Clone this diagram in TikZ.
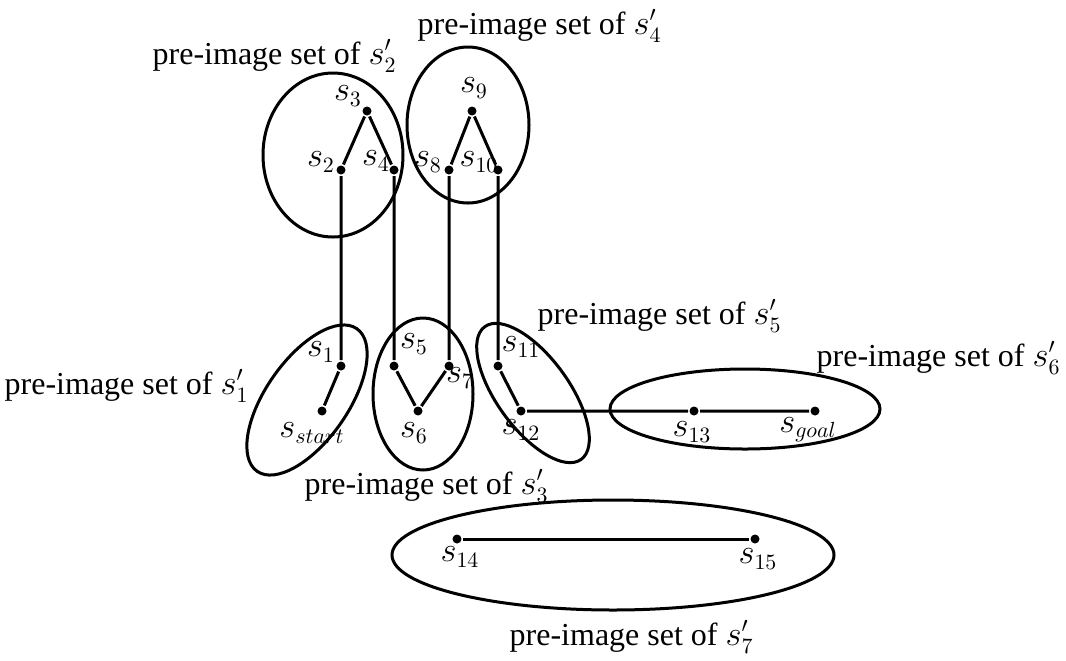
\documentclass[tikz,border=0pt]{standalone}
\usepackage{fontspec}
\setmainfont{Liberation Serif}
\tikzset{
  sdot/.style={circle, fill, inner sep=0pt, minimum size=4.5pt},
  slab/.style={inner sep=1pt},
  setlab/.style={inner sep=0pt},
}
\begin{document}
\begin{tikzpicture}[x=0.5pt,y=-0.5pt,line width=1.5pt,font=\fontsize{16}{19}\selectfont]
\useasboundingbox (0,0) rectangle (1066,660);
% states
\node[sdot] (start) at (322,411) {};
\node[sdot] (s1) at (341,366) {};
\node[sdot] (s2) at (341,170) {};
\node[sdot] (s3) at (367,111) {};
\node[sdot] (s4) at (394,170) {};
\node[sdot] (s5) at (394,366) {};
\node[sdot] (s6) at (418,411) {};
\node[sdot] (s7) at (449,366) {};
\node[sdot] (s8) at (449,170) {};
\node[sdot] (s9) at (472,111) {};
\node[sdot] (s10) at (498,170) {};
\node[sdot] (s11) at (498,366) {};
\node[sdot] (s12) at (521,411) {};
\node[sdot] (s13) at (694,411) {};
\node[sdot] (goal) at (815,411) {};
\node[sdot] (s14) at (457,539) {};
\node[sdot] (s15) at (755,539) {};
% state labels
\node[slab] (lstart) at (312,433) {$s_{start}$};
\node[slab] (l1) at (321,352) {$s_1$};
\node[slab] (l2) at (321,162) {$s_2$};
\node[slab] (l3) at (348,96) {$s_3$};
\node[slab] (l4) at (376,161) {$s_4$};
\node[slab] (l5) at (414,344) {$s_5$};
\node[slab] (l6) at (414,433) {$s_6$};
\node[slab] (l7) at (460,378) {$s_7$};
\node[slab] (l8) at (428,162) {$s_8$};
\node[slab] (l9) at (474,88) {$s_9$};
\node[slab] (l10) at (479,162) {$s_{10}$};
\node[slab] (l11) at (521,347) {$s_{11}$};
\node[slab] (l12) at (521,430) {$s_{12}$};
\node[slab] (l13) at (692,432) {$s_{13}$};
\node[slab] (lgoal) at (808,430) {$s_{goal}$};
\node[slab] (l14) at (460,557) {$s_{14}$};
\node[slab] (l15) at (758,559) {$s_{15}$};
% path
\draw (start) -- (s1) -- (s2) -- (s3) -- (s4) -- (s5) -- (s6) -- (s7) -- (s8) -- (s9) -- (s10) -- (s11) -- (s12) -- (s13) -- (goal);
\draw (s14) -- (s15);
% pre-image sets
\draw[rotate around={55:(307,400)}] (307,400) ellipse [x radius=87, y radius=41];
\draw (333,155) ellipse [x radius=70, y radius=82];
\draw (423,394) ellipse [x radius=50, y radius=76];
\draw (468,125) ellipse [x radius=61, y radius=78];
\draw[rotate around={-54:(533,393)}] (533,393) ellipse [x radius=82, y radius=36];
\draw (745,409) ellipse [x radius=135, y radius=40];
\draw (613,555) ellipse [x radius=221, y radius=55];
% set labels
\node[setlab, anchor=east] (set1) at (250,386) {pre-image set of $s'_1$};
\node[setlab, anchor=east] (set2) at (398,56) {pre-image set of $s'_2$};
\node[setlab, anchor=east] (set3) at (550,486) {pre-image set of $s'_3$};
\node[setlab, anchor=east] (set4) at (663,26) {pre-image set of $s'_4$};
\node[setlab, anchor=east] (set5) at (783,316) {pre-image set of $s'_5$};
\node[setlab, anchor=east] (set6) at (1062,358) {pre-image set of $s'_6$};
\node[setlab, anchor=east] (set7) at (755,637) {pre-image set of $s'_7$};
\end{tikzpicture}
\end{document}
